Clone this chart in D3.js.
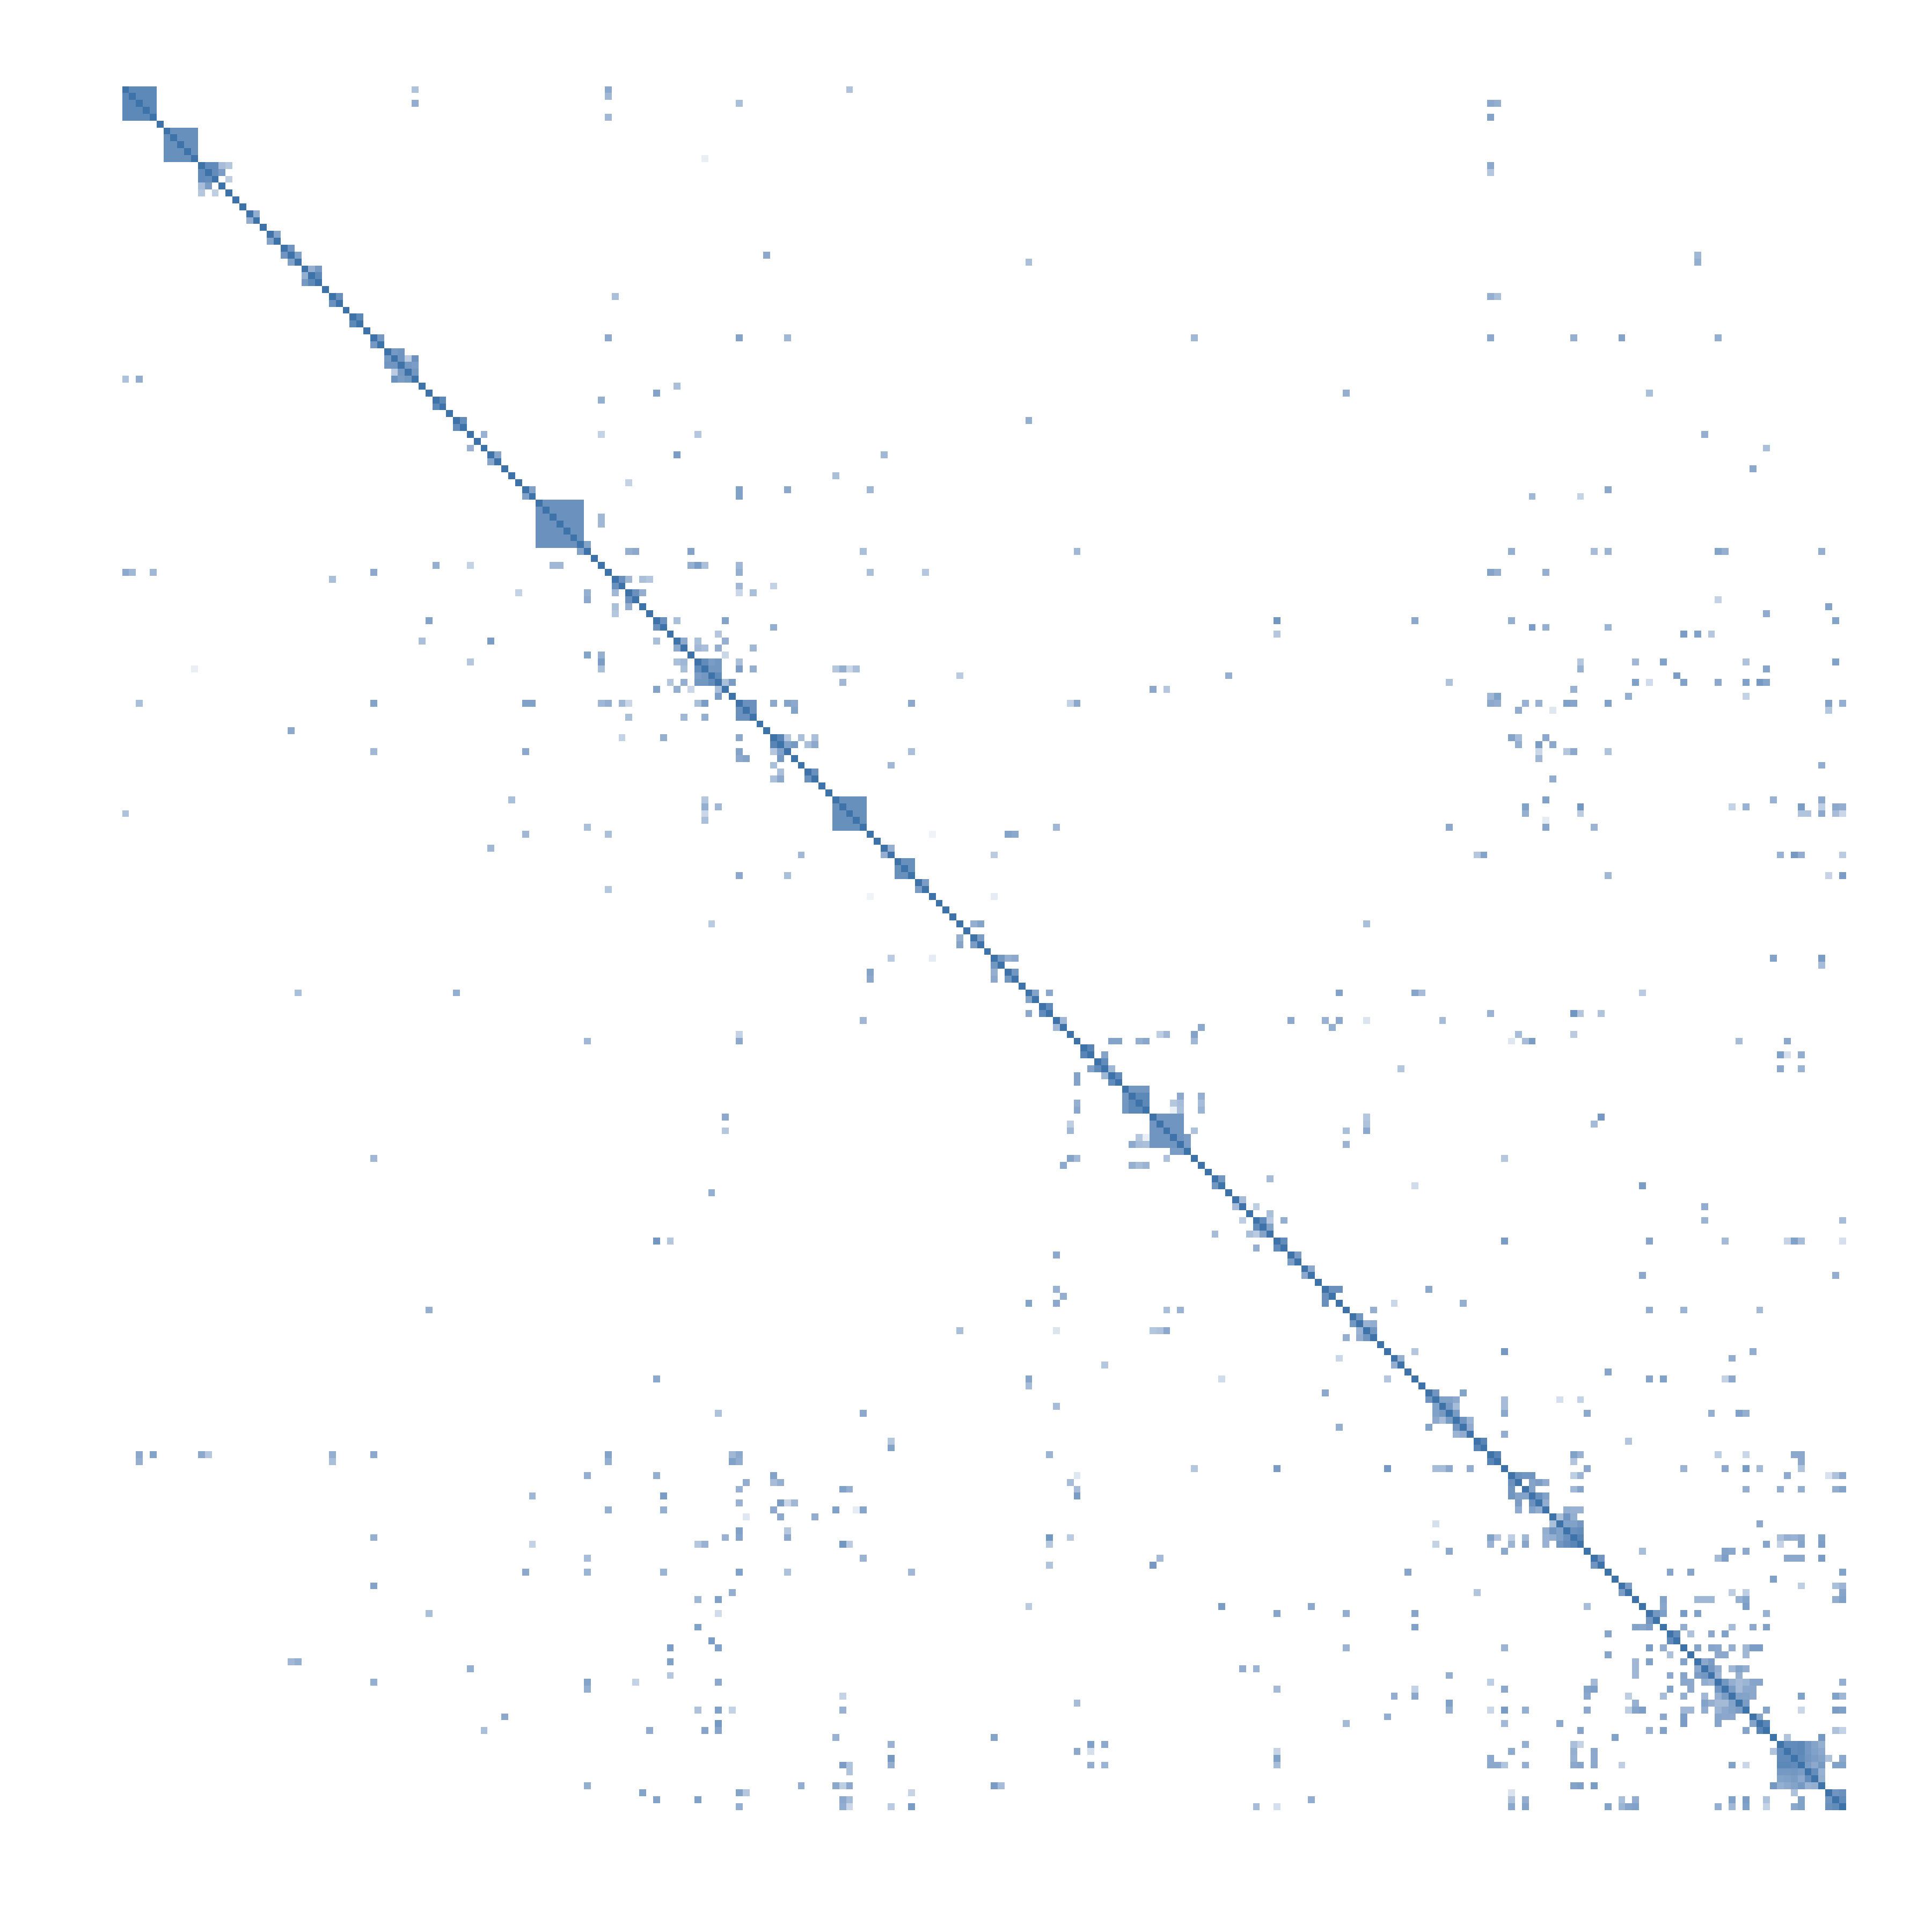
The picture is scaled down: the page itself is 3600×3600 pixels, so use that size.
<!DOCTYPE html>
<html>
<head>
<meta charset="utf-8">
<title>Similarity matrix</title>
<script src="https://cdnjs.cloudflare.com/ajax/libs/d3/7.8.5/d3.min.js"></script>
<style>
  body { margin: 0; background: #fff; }
</style>
</head>
<body>
<div id="chart"></div>
<script>
// number of rows / columns of the matrix
var categories = d3.range(250);

// solid groups along the diagonal: first, last, value
var blocks = [[0,4,.82],[6,10,.76],[60,66,.74],[103,107,.76],[112,114,.76],[149,153,.72]];

// upper triangle only, the lower one is the mirror: row, col, value
var linksRows0to60 = [
  [11,12,.8],[11,13,.8],[11,14,.42],[11,15,.35],[12,13,.78],[12,14,.65],[13,15,.3],[18,19,.52],[21,22,.6],
  [23,24,.72],[24,25,.62],[26,27,.5],[26,28,.68],[27,28,.82],[30,31,.75],[33,34,.82],[36,37,.68],
  [38,39,.68],[38,40,.72],[39,40,.72],[39,41,.32],[39,42,.74],[40,41,.68],[40,42,.65],[41,42,.7],
  [45,46,.82],[48,49,.78],[50,52,.48],[53,54,.58],[58,59,.62],
  [0,42,.38],[2,42,.52],[0,70,.55],[1,70,.45],[4,70,.45],[2,89,.4],[0,105,.38],[10,84,.1],[24,93,.55],
  [30,71,.4],[36,70,.55],[36,89,.6],[36,96,.45],[43,80,.4],[44,77,.6],[45,69,.5],[50,69,.28],[50,83,.35],
  [53,80,.65],[53,110,.45],[56,103,.4],[57,73,.28],[58,89,.62],[59,89,.62],[58,96,.55],[58,108,.45],
  [25,131,.4],[36,155,.45],[44,177,.5],[48,131,.5],
  [2,198,.55],[2,199,.5],[4,198,.6],[11,198,.55],[12,198,.35],[24,228,.45],[25,228,.5],[30,198,.5],[30,199,.4],
  [36,198,.55],[36,210,.5],[36,217,.6],[36,231,.5],[44,221,.4],[50,229,.5],[52,238,.4],[55,236,.55],
  [58,215,.55],[59,204,.45],[59,211,.28]
];

var linksRows61to123 = [
  [62,69,.45],[63,69,.45],[66,67,.6],[67,73,.5],[67,74,.55],[67,82,.6],[67,107,.4],
  [69,82,.5],[69,83,.65],[69,84,.4],[69,89,.45],[70,89,.5],[70,108,.4],[70,116,.35],
  [71,72,.75],[71,73,.45],[71,75,.4],[71,76,.35],[72,89,.45],[72,94,.28],[73,74,.75],[73,75,.5],[73,89,.25],[73,91,.4],
  [77,78,.75],[77,80,.4],[77,87,.6],[78,94,.5],[79,86,.35],[80,81,.55],[80,83,.4],[80,87,.5],
  [81,83,.45],[81,84,.4],[81,86,.5],[81,91,.45],[82,87,.25],
  [83,84,.8],[83,85,.65],[83,86,.7],[83,89,.4],[84,85,.7],[84,86,.7],[84,89,.65],[84,91,.5],
  [84,103,.35],[84,104,.5],[84,105,.25],[84,106,.4],[85,86,.8],[85,121,.33],[86,87,.4],[86,88,.65],[86,104,.45],
  [89,90,.75],[89,91,.75],[89,94,.55],[89,96,.6],[89,97,.55],[89,114,.55],[90,91,.75],[90,97,.6],
  [94,95,.85],[94,96,.35],[94,98,.4],[94,100,.4],[95,96,.62],[95,97,.68],[95,99,.4],[95,100,.55],
  [96,114,.4],[98,111,.45],[99,100,.75],[108,117,.07],[110,111,.5],[115,116,.65],[121,123,.5],
  [67,138,.45],[77,167,.7],[79,167,.35],[85,160,.5],[87,149,.55],[87,151,.35],[89,137,.28],[89,138,.55],
  [107,135,.45],[108,128,.6],[108,129,.55],[111,126,.33],[117,126,.12],[121,124,.6],[121,180,.4],[123,124,.65],
  [67,201,.5],[67,213,.42],[67,215,.47],[67,231,.6],[67,232,.5],[67,246,.5],
  [70,198,.6],[70,199,.5],[70,206,.5],[74,231,.28],[75,247,.6],[76,238,.53],[77,187,.55],[77,201,.5],[77,248,.6],
  [78,204,.65],[78,206,.5],[78,215,.47],[79,226,.65],[79,228,.62],[79,230,.35],
  [83,211,.35],[83,219,.45],[83,223,.62],[83,235,.38],[83,248,.62],[84,211,.48],[84,238,.58],[85,225,.65],
  [86,192,.38],[86,219,.62],[86,221,.22],[86,226,.62],[86,231,.55],[86,235,.62],[86,237,.68],[86,238,.58],
  [87,210,.48],[88,198,.45],[88,199,.62],[88,218,.5],[88,235,.28],
  [89,198,.55],[89,199,.52],[89,203,.48],[89,205,.48],[89,209,.62],[89,210,.58],[89,215,.62],[89,247,.6],[89,249,.5],
  [90,202,.52],[90,207,.15],[90,247,.35],[94,201,.6],[94,202,.42],[94,206,.55],[95,202,.5],[95,205,.65],[95,207,.55],
  [96,205,.25],[96,209,.35],[96,210,.55],[96,215,.38],[97,205,.45],[98,246,.52],[100,207,.52],
  [103,206,.62],[103,239,.48],[103,246,.55],[104,203,.62],[104,211,.7],[104,233,.28],[104,235,.48],[104,243,.65],
  [104,246,.3],[104,248,.55],[104,249,.52],[105,203,.5],[105,211,.32],[105,243,.37],[105,244,.37],[105,246,.55],
  [105,248,.42],[105,249,.25],[106,206,.12],[107,192,.55],[107,206,.58],[107,213,.47],
  [111,196,.35],[111,197,.6],[111,240,.48],[111,242,.68],[111,243,.52],[111,249,.33],
  [114,215,.45],[114,247,.27],[114,249,.65]
];

var linksRows124to185 = [
  [126,127,.7],[126,128,.5],[126,129,.55],[128,129,.7],[131,132,.6],[131,134,.55],[131,176,.6],[133,134,.8],
  [135,136,.45],[135,169,.55],[135,174,.48],[135,176,.55],[135,180,.17],[136,156,.55],[136,175,.5],
  [137,150,.3],[137,151,.45],[137,155,.6],[138,143,.6],[138,144,.6],[138,147,.5],[138,148,.57],[138,155,.45],
  [139,140,.85],[140,142,.6],[141,142,.8],[142,143,.45],[143,144,.8],
  [145,146,.7],[145,147,.7],[145,148,.7],[146,147,.82],[146,148,.82],[146,153,.55],[146,156,.5],[147,148,.82],
  [147,152,.35],[147,153,.42],[147,156,.42],[148,152,.1],[148,153,.4],[148,156,.47],
  [149,180,.35],[150,180,.38],[151,155,.38],[151,177,.4],[151,180,.55],[152,154,.65],[153,154,.65],[153,177,.47],
  [158,159,.7],[158,166,.42],[161,162,.42],[162,164,.3],[163,166,.4],[164,165,.8],[164,166,.33],[164,168,.5],
  [165,166,.6],[167,168,.8],[169,170,.65],[171,172,.55],[174,175,.75],[174,176,.75],[176,184,.25],[177,181,.5],
  [178,179,.7],[179,180,.48],[179,181,.52],[180,181,.72],[184,185,.5],[142,185,.35],
  [126,239,.6],[126,246,.65],[127,246,.42],[131,187,.58],[131,188,.42],[131,220,.33],
  [134,198,.47],[134,210,.7],[134,211,.35],[134,214,.37],[135,191,.42],[137,202,.42],[137,210,.33],
  [138,201,.15],[138,203,.42],[138,204,.65],[138,234,.42],[138,241,.55],[140,240,.62],[140,241,.2],[140,243,.52],
  [142,240,.55],[142,243,.47],[149,214,.68],[150,213,.43],[155,200,.35],[159,187,.22],[159,220,.65],
  [162,229,.52],[164,229,.47],[164,249,.42],[167,200,.65],[167,221,.58],[167,232,.43],[167,241,.27],[167,242,.62],
  [167,243,.42],[167,249,.2],[172,220,.55],[172,248,.52],[174,189,.55],[176,194,.5],
  [177,221,.52],[177,226,.47],[177,237,.43],[183,187,.35],[183,200,.68],[183,236,.52],[184,233,.52]
];

var linksRows186to249 = [
  [186,215,.58],[187,221,.58],[187,223,.62],[187,232,.28],[187,233,.55],
  [189,190,.72],[189,194,.6],[190,191,.62],[190,192,.62],[190,193,.55],[190,200,.42],[190,208,.2],[190,211,.28],
  [191,192,.68],[191,193,.42],[191,200,.42],[192,193,.66],[192,200,.55],[192,212,.55],[192,230,.5],[192,234,.62],[192,235,.5],
  [193,194,.72],[193,195,.47],[194,195,.53],[195,200,.52],[196,197,.85],[196,218,.36],
  [198,199,.85],[198,210,.62],[198,211,.48],[198,231,.3],[198,235,.25],[198,242,.55],[198,243,.55],
  [199,210,.36],[199,243,.55],[200,212,.55],[200,226,.47],[200,232,.55],[200,235,.66],[200,237,.44],[200,243,.37],
  [201,202,.75],[201,203,.72],[201,204,.72],[201,210,.3],[201,211,.47],[201,241,.54],[201,247,.18],[201,248,.38],[201,249,.55],
  [202,204,.6],[202,205,.65],[202,206,.53],
  [203,204,.6],[203,210,.45],[203,211,.58],[203,235,.5],[203,240,.5],[203,243,.5],[203,248,.52],[203,249,.6],
  [204,205,.75],[204,206,.62],[205,206,.52],[206,209,.5],[206,210,.48],[206,211,.48],
  [207,208,.4],[207,209,.72],[207,210,.5],[208,209,.62],[208,210,.62],[208,211,.7],[208,237,.55],
  [209,210,.75],[209,211,.78],[210,211,.85],[210,240,.4],[210,241,.5],[210,242,.48],[210,243,.55],[210,246,.6],
  [211,238,.58],[211,240,.28],[211,243,.58],[211,246,.63],
  [212,220,.41],[212,232,.6],[212,233,.57],[212,235,.55],[213,214,.72],[213,231,.43],[213,232,.63],[213,241,.55],
  [213,242,.55],[213,243,.55],[213,246,.65],[215,224,.58],[215,227,.58],[215,249,.6],[216,239,.62],
  [217,218,.65],[217,243,.3],[217,248,.4],[217,249,.46],[218,233,.31],[218,235,.3],[218,249,.58],
  [219,223,.6],[219,228,.45],[219,229,.45],[219,230,.45],[219,234,.49],[219,235,.59],[219,248,.52],[219,249,.62],
  [220,223,.57],[220,235,.64],[221,222,.7],[221,223,.63],[221,226,.66],[221,228,.62],[221,238,.48],
  [223,226,.52],[223,233,.42],[223,236,.55],[223,238,.61],[224,225,.8],[224,227,.38],[224,230,.55],[224,232,.62],
  [226,228,.6],[226,230,.58],[226,231,.56],[226,233,.5],[226,235,.45],[226,236,.65],[226,237,.65],
  [227,231,.55],[227,232,.55],[227,235,.45],[228,229,.55],[228,230,.65],[229,230,.69],[229,231,.52],[229,233,.45],
  [229,234,.6],[229,235,.51],[230,231,.47],[230,234,.5],
  [231,232,.7],[231,233,.5],[231,234,.43],[231,235,.46],[231,236,.58],[231,237,.58],[231,249,.5],
  [232,233,.66],[232,234,.43],[232,235,.55],[232,236,.56],[233,234,.61],[233,235,.6],[233,236,.56],[233,243,.62],
  [233,248,.62],[233,249,.45],[234,235,.65],[235,238,.59],[235,243,.25],[235,248,.65],[235,249,.62],
  [236,237,.6],[237,238,.85],[238,248,.38],[238,249,.28],[239,241,.37],[239,246,.69],
  [240,241,.8],[240,242,.8],[240,243,.82],[240,244,.68],[240,245,.6],[240,246,.5],
  [241,242,.8],[241,243,.82],[241,244,.68],[241,245,.62],[241,246,.55],
  [242,243,.8],[242,244,.7],[242,245,.65],[242,246,.6],[242,247,.38],[242,249,.55],
  [243,244,.65],[243,245,.55],[243,246,.68],[243,248,.62],[243,249,.62],[244,245,.78],[244,246,.48],[245,246,.5],
  [247,248,.72],[247,249,.75],[248,249,.8]
];

var size = 3600;

var x = d3.scaleBand().domain(categories).range([227.5, 3439.6]);
var y = d3.scaleBand().domain(categories).range([160.5, 3372.5]);

// white to the blue of the diagonal
var color = d3.scaleLinear()
    .domain([0, .5, 1])
    .range(["#ffffff", "#95afd1", "#3e73aa"]);

// build the cells, mirrored over the diagonal
var cells = [];
categories.forEach(function(i) {
    cells.push({row: i, col: i, value: 1});
});
blocks.forEach(function(b) {
    for (var i = b[0]; i <= b[1]; i++) {
        for (var j = b[0]; j <= b[1]; j++) {
            if (i != j) cells.push({row: i, col: j, value: b[2]});
        }
    }
});
linksRows0to60.concat(linksRows61to123, linksRows124to185, linksRows186to249).forEach(function(d) {
    cells.push({row: d[0], col: d[1], value: d[2]});
    cells.push({row: d[1], col: d[0], value: d[2]});
});

var svg = d3.select("#chart")
    .append("svg")
    .attr("width", size)
    .attr("height", size)
    .style("display", "block");

svg.append("g")
    .attr("shape-rendering", "crispEdges")
    .selectAll("rect")
    .data(cells)
    .enter()
    .append("rect")
    .attr("x", function(d) { return x(d.col); })
    .attr("y", function(d) { return y(d.row); })
    .attr("width", x.bandwidth())
    .attr("height", y.bandwidth())
    .style("fill", function(d) { return color(d.value); });
</script>
</body>
</html>
